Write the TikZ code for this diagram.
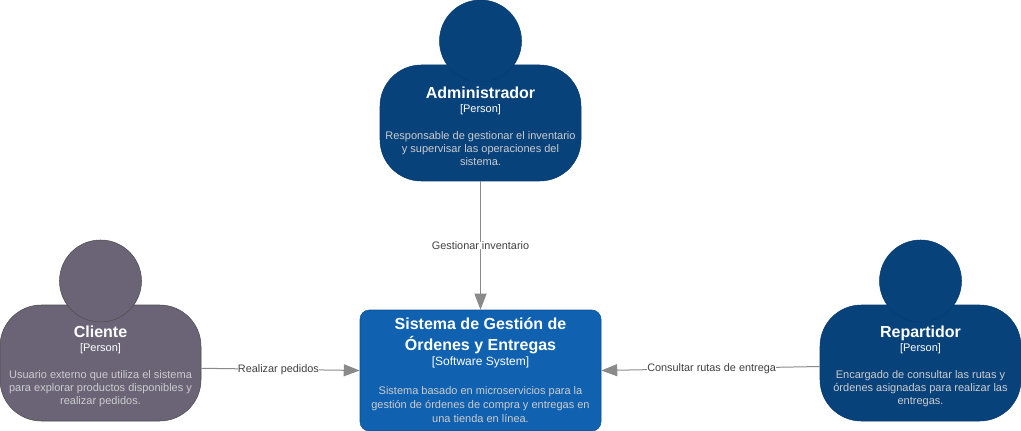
\documentclass[tikz,border=0pt]{standalone}
\usepackage{fontspec}
\setmainfont{Liberation Sans}
\usetikzlibrary{arrows.meta}
\definecolor{personblue}{HTML}{08427B}
\definecolor{personline}{HTML}{073B6F}
\definecolor{extgray}{HTML}{6B6477}
\definecolor{extline}{HTML}{4D4D4D}
\definecolor{systemblue}{HTML}{1061B0}
\definecolor{systemline}{HTML}{0D5091}
\definecolor{desctext}{HTML}{CCCCCC}
\definecolor{flowgray}{HTML}{8A8A8A}
\definecolor{flowtext}{HTML}{404040}
\newcommand{\boxtitle}[1]{\textcolor{white}{\fontsize{12pt}{15pt}\selectfont\bfseries #1}}
\newcommand{\persontitle}[1]{\boxtitle{\rule{0pt}{13pt}#1}}
\newcommand{\boxkind}[1]{\textcolor{white}{\fontsize{8.25pt}{10pt}\selectfont #1}}
\newcommand{\systemkind}[1]{\textcolor{white}{\fontsize{9pt}{10pt}\selectfont #1}}
\newcommand{\boxdesc}[1]{\textcolor{desctext}{\fontsize{8.25pt}{9.75pt}\selectfont #1}}
\tikzset{
  personbody/.style={draw, rounded corners=31pt, minimum width=150.75pt, minimum height=87pt, inner sep=0pt, align=center, font=\fontsize{8.25pt}{9.75pt}\selectfont},
  personhead/.style={draw, circle, minimum size=61.5pt, inner sep=0pt},
  systembox/.style={draw=systemline, fill=systemblue, rounded corners=7pt, minimum width=180.75pt, minimum height=90.75pt, inner sep=0pt, align=center, font=\fontsize{8.25pt}{9.75pt}\selectfont},
  flow/.style={draw=flowgray, line width=0.75pt, -{Triangle[length=12pt,width=9pt,fill=flowgray]}},
  flowlabel/.style={fill=white, inner sep=0pt, text=flowtext, font=\fontsize{8.15pt}{10pt}\selectfont}
}
\begin{document}
\begin{tikzpicture}[x=0.75pt,y=-0.75pt]
    \useasboundingbox (0,0) rectangle (1021,431);
    \node[personbody, fill=personblue, draw=personline] (administrador) at (480.5,123) {\persontitle{Administrador}\\[0.75pt]\boxkind{[Person]}\\[10.5pt]\boxdesc{Responsable de gestionar el inventario}\\\boxdesc{y supervisar las operaciones del}\\\boxdesc{sistema.}};
    \node[personhead, fill=personblue, draw=personline] (administradorhead) at (480.5,41) {};
    \node[personbody, fill=extgray, draw=extline] (cliente) at (100.5,363) {\persontitle{Cliente}\\[0.75pt]\boxkind{[Person]}\\[10.5pt]\boxdesc{Usuario externo que utiliza el sistema}\\\boxdesc{para explorar productos disponibles y}\\\boxdesc{realizar pedidos.}};
    \node[personhead, fill=extgray, draw=extline] (clientehead) at (100.5,281) {};
    \node[personbody, fill=personblue, draw=personline] (repartidor) at (920.5,363) {\persontitle{Repartidor}\\[0.75pt]\boxkind{[Person]}\\[10.5pt]\boxdesc{Encargado de consultar las rutas y}\\\boxdesc{órdenes asignadas para realizar las}\\\boxdesc{entregas.}};
    \node[personhead, fill=personblue, draw=personline] (repartidorhead) at (920.5,281) {};
    \node[systembox] (sistema) at (480.5,370.5) {\boxtitle{Sistema de Gestión de}\\[3.75pt]\boxtitle{Órdenes y Entregas}\\[1.5pt]\systemkind{[Software System]}\\[12pt]\boxdesc{Sistema basado en microservicios para la}\\[1pt]\boxdesc{gestión de órdenes de compra y entregas en}\\[1pt]\boxdesc{una tienda en línea.}};
    \draw[flow] (administrador.south) -- node[flowlabel, pos=0.5] (gestionar) {Gestionar inventario} (sistema.north);
    \draw[flow] (cliente.-3) -- node[flowlabel, pos=0.487] (realizar) {Realizar pedidos} (sistema.west);
    \draw[flow] (repartidor.182) -- node[flowlabel, pos=0.495] (consultar) {Consultar rutas de entrega} (sistema.east);
\end{tikzpicture}
\end{document}
